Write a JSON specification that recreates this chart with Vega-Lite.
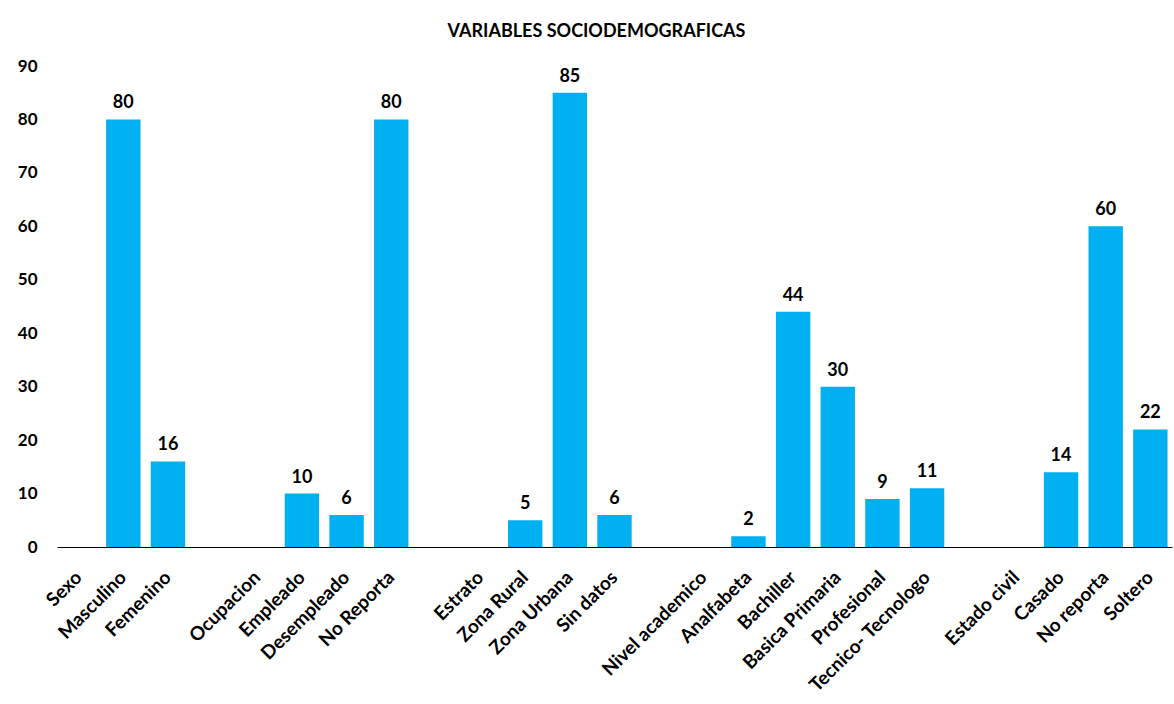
{
  "$schema": "https://vega.github.io/schema/vega-lite/v6.json",
  "autosize": "none",
  "width": 1115,
  "height": 481,
  "padding": {"left": 57, "top": 66, "right": 2, "bottom": 157},
  "background": "white",
  "title": {
    "text": "VARIABLES SOCIODEMOGRAFICAS",
    "font": "Lato",
    "fontSize": 18,
    "fontWeight": "bold",
    "color": "#000000",
    "anchor": "middle",
    "dx": -18,
    "offset": -2,
    "baseline": "bottom"
  },
  "data": {
    "values": [
      {"cat": "Sexo", "v": null},
      {"cat": "Masculino", "v": 80},
      {"cat": "Femenino", "v": 16},
      {"cat": " ", "v": null},
      {"cat": "Ocupacion", "v": null},
      {"cat": "Empleado", "v": 10},
      {"cat": "Desempleado", "v": 6},
      {"cat": "No Reporta", "v": 80},
      {"cat": "  ", "v": null},
      {"cat": "Estrato", "v": null},
      {"cat": "Zona Rural", "v": 5},
      {"cat": "Zona Urbana", "v": 85},
      {"cat": "Sin datos", "v": 6},
      {"cat": "   ", "v": null},
      {"cat": "Nivel academico", "v": null},
      {"cat": "Analfabeta", "v": 2},
      {"cat": "Bachiller", "v": 44},
      {"cat": "Basica Primaria", "v": 30},
      {"cat": "Profesional", "v": 9},
      {"cat": "Tecnico- Tecnologo", "v": 11},
      {"cat": "    ", "v": null},
      {"cat": "Estado civil", "v": null},
      {"cat": "Casado", "v": 14},
      {"cat": "No reporta", "v": 60},
      {"cat": "Soltero", "v": 22}
    ]
  },
  "encoding": {
    "x": {
      "field": "cat",
      "type": "nominal",
      "sort": null,
      "scale": {
        "domain": ["Sexo", "Masculino", "Femenino", " ", "Ocupacion", "Empleado", "Desempleado", "No Reporta", "  ", "Estrato", "Zona Rural", "Zona Urbana", "Sin datos", "   ", "Nivel academico", "Analfabeta", "Bachiller", "Basica Primaria", "Profesional", "Tecnico- Tecnologo", "    ", "Estado civil", "Casado", "No reporta", "Soltero"],
        "paddingInner": 0.23,
        "paddingOuter": 0.1
      },
      "axis": {
        "title": null,
        "labelAngle": -45,
        "labelAlign": "right",
        "labelBaseline": "middle",
        "labelPadding": 27,
        "labelDx": -7,
        "labelFont": "Lato",
        "labelFontSize": 19,
        "labelFontWeight": "bold",
        "labelColor": "#000000",
        "ticks": false,
        "domainColor": "#000000",
        "domainWidth": 1,
        "labelOverlap": false,
        "labelLimit": 300
      }
    },
    "y": {
      "field": "v",
      "type": "quantitative",
      "scale": {"domain": [0, 90]},
      "axis": {
        "title": null,
        "values": [0, 10, 20, 30, 40, 50, 60, 70, 80, 90],
        "grid": false,
        "domain": false,
        "ticks": false,
        "labelPadding": 20,
        "labelFont": "Lato",
        "labelFontSize": 17,
        "labelFontWeight": "bold",
        "labelColor": "#000000"
      }
    }
  },
  "layer": [
    {"mark": {"type": "bar", "color": "#00B0F0"}},
    {
      "mark": {"type": "text", "baseline": "alphabetic", "dy": -11, "font": "Lato", "fontSize": 18, "fontWeight": "bold", "color": "#000000"},
      "encoding": {"text": {"field": "v", "type": "quantitative"}}
    }
  ],
  "config": {"view": {"stroke": null}}
}
